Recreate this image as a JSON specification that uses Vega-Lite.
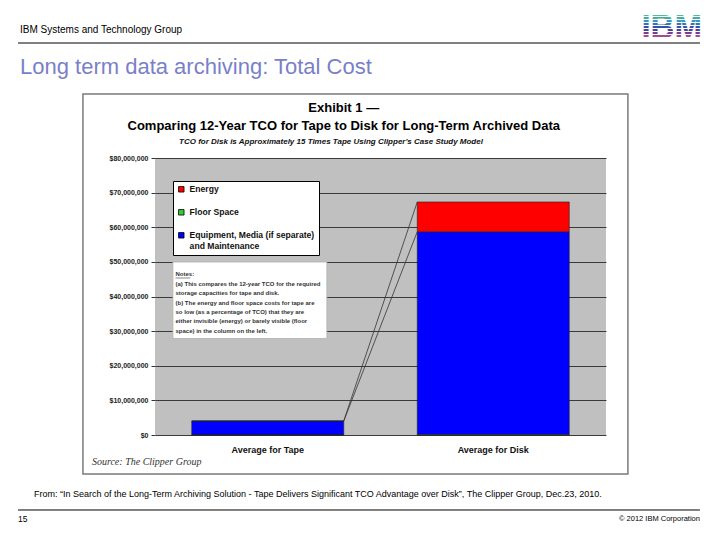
{
  "$schema": "https://vega.github.io/schema/vega-lite/v6.json",
  "width": 451,
  "height": 277,
  "autosize": {"type": "none"},
  "padding": {"left": 155, "top": 158, "right": 114, "bottom": 105},
  "background": "white",
  "config": {
    "font": "Liberation Sans",
    "view": {"fill": "#c0c0c0", "stroke": null}
  },
  "datasets": {
    "tco": [
      {"category": "Average for Tape", "component": "Equipment, Media (if separate) and Maintenance", "cost": 4010000},
      {"category": "Average for Tape", "component": "Floor Space", "cost": 30000},
      {"category": "Average for Tape", "component": "Energy", "cost": 10000},
      {"category": "Average for Disk", "component": "Equipment, Media (if separate) and Maintenance", "cost": 58650000},
      {"category": "Average for Disk", "component": "Floor Space", "cost": 50000},
      {"category": "Average for Disk", "component": "Energy", "cost": 8600000}
    ],
    "serieslines": [
      {"series": "Energy", "from": "Average for Tape", "to": "Average for Disk", "tape_top": 4050000, "disk_top": 67300000},
      {"series": "Equipment, Media (if separate) and Maintenance", "from": "Average for Tape", "to": "Average for Disk", "tape_top": 4040000, "disk_top": 58700000}
    ],
    "one": [{}]
  },
  "layer": [
    {
      "data": {"name": "tco"},
      "mark": {"type": "bar", "stroke": "#222", "strokeWidth": 0.6},
      "encoding": {
        "x": {
          "field": "category", "type": "nominal",
          "scale": {"domain": ["Average for Tape", "Average for Disk"], "paddingInner": 0.326, "paddingOuter": 0.163},
          "axis": {"title": null, "ticks": false, "domain": false, "labelAngle": 0, "labelFontSize": 9, "labelFontWeight": "bold", "labelColor": "#111", "labelPadding": 10}
        },
        "y": {
          "field": "cost", "type": "quantitative", "stack": "zero",
          "scale": {"domain": [0, 80000000], "nice": false},
          "axis": {"title": null, "values": [0, 10000000, 20000000, 30000000, 40000000, 50000000, 60000000, 70000000, 80000000], "tickCount": 9, "format": "$,.0f", "labelOverlap": false, "labelFontSize": 7, "labelFontWeight": "bold", "labelColor": "#222", "tickSize": 4, "tickColor": "#333", "labelPadding": 3, "domain": false, "grid": true, "gridColor": "#3a3a3a", "gridWidth": 1}
        },
        "color": {
          "field": "component", "type": "nominal",
          "scale": {"domain": ["Energy", "Floor Space", "Equipment, Media (if separate) and Maintenance"], "range": ["#ff0000", "#33cc33", "#0000ff"]},
          "legend": {
            "orient": "none", "legendX": 18, "legendY": 23, "title": null,
            "symbolType": "square", "symbolSize": 30, "symbolStrokeColor": "#000", "symbolStrokeWidth": 0.8,
            "labelFontSize": 8.6, "labelFontWeight": "bold", "labelColor": "#111", "labelLimit": 240, "labelOffset": 4,
            "fillColor": "#ffffff", "strokeColor": "#000000", "padding": 4, "rowPadding": 13,
            "labelExpr": "datum.label == 'Equipment, Media (if separate) and Maintenance' ? ['Equipment, Media (if separate)', 'and Maintenance'] : datum.label"
          }
        },
        "order": {"field": "component", "type": "nominal", "sort": "descending"}
      }
    },
    {
      "data": {"name": "one"},
      "mark": {"type": "rect", "filled": false, "stroke": "#7a7a7a", "strokeWidth": 1.5},
      "encoding": {
        "x": {"datum": "Average for Tape", "type": "nominal", "bandPosition": -0.716},
        "x2": {"datum": "Average for Disk", "bandPosition": 1.386},
        "y": {"datum": 98480000, "type": "quantitative"},
        "y2": {"datum": -11260000}
      }
    },
    {
      "data": {"name": "serieslines"},
      "mark": {"type": "rule", "stroke": "#333", "strokeWidth": 0.8},
      "encoding": {
        "x": {"field": "from", "type": "nominal", "bandPosition": 1},
        "x2": {"field": "to", "bandPosition": 0},
        "y": {"field": "tape_top", "type": "quantitative"},
        "y2": {"field": "disk_top"}
      }
    },
    {
      "data": {"name": "one"},
      "mark": {"type": "rect", "fill": "#ffffff", "stroke": "#b0b0b0", "strokeWidth": 0.8},
      "encoding": {
        "x": {"datum": "Average for Tape", "type": "nominal", "bandPosition": -0.124},
        "x2": {"datum": "Average for Tape", "bandPosition": 0.889},
        "y": {"datum": 49960000, "type": "quantitative"},
        "y2": {"datum": 27870000}
      }
    },
    {
      "data": {"name": "one"},
      "mark": {
        "type": "text", "align": "left", "baseline": "top", "fontSize": 6, "fontWeight": "bold", "color": "#333", "lineHeight": 9.4,
        "text": ["Notes:", "(a) This compares the 12-year TCO for the required", "storage capacities for tape and disk.", "(b) The energy and floor space costs for tape are", "so low (as a percentage of TCO) that they are", "either invisible (energy) or barely visible (floor", "space) in the column on the left."]
      },
      "encoding": {
        "x": {"datum": "Average for Tape", "type": "nominal", "bandPosition": -0.107},
        "y": {"datum": 47250000, "type": "quantitative"}
      }
    },
    {
      "data": {"name": "one"},
      "mark": {"type": "rule", "stroke": "#333", "strokeWidth": 0.6},
      "encoding": {
        "x": {"datum": "Average for Tape", "type": "nominal", "bandPosition": -0.107},
        "x2": {"datum": "Average for Tape", "bandPosition": -0.01},
        "y": {"datum": 45340000, "type": "quantitative"}
      }
    },
    {
      "data": {"name": "one"},
      "mark": {"type": "text", "text": "Exhibit 1 \u2014", "align": "center", "baseline": "middle", "fontSize": 13, "fontWeight": "bold", "color": "#000"},
      "encoding": {
        "x": {"datum": "Average for Tape", "type": "nominal", "bandPosition": 1.0},
        "y": {"datum": 94440000, "type": "quantitative"}
      }
    },
    {
      "data": {"name": "one"},
      "mark": {"type": "text", "text": "Comparing 12-Year TCO for Tape to Disk for Long-Term Archived Data", "align": "center", "baseline": "middle", "fontSize": 13, "fontWeight": "bold", "color": "#000"},
      "encoding": {
        "x": {"datum": "Average for Tape", "type": "nominal", "bandPosition": 1.0},
        "y": {"datum": 89240000, "type": "quantitative"}
      }
    },
    {
      "data": {"name": "one"},
      "mark": {"type": "text", "text": "TCO for Disk is Approximately 15 Times Tape Using Clipper's Case Study Model", "align": "center", "baseline": "middle", "fontSize": 8, "fontWeight": "bold", "fontStyle": "italic", "color": "#111"},
      "encoding": {
        "x": {"datum": "Average for Tape", "type": "nominal", "bandPosition": 0.916},
        "y": {"datum": 84480000, "type": "quantitative"}
      }
    },
    {
      "data": {"name": "one"},
      "mark": {"type": "text", "text": "Source:  The Clipper Group", "align": "left", "baseline": "middle", "fontSize": 10, "font": "Liberation Serif", "fontStyle": "italic", "color": "#333"},
      "encoding": {
        "x": {"datum": "Average for Tape", "type": "nominal", "bandPosition": -0.657},
        "y": {"datum": -7940000, "type": "quantitative"}
      }
    },
    {
      "data": {"name": "one"},
      "mark": {"type": "text", "text": "IBM Systems and Technology Group", "align": "left", "baseline": "middle", "fontSize": 10, "color": "#000"},
      "encoding": {
        "x": {"datum": "Average for Tape", "type": "nominal", "bandPosition": -1.13},
        "y": {"datum": 116970000, "type": "quantitative"}
      }
    },
    {
      "data": {"name": "one"},
      "mark": {
        "type": "text", "text": "IBM", "align": "right", "baseline": "middle", "fontSize": 33, "fontWeight": "bold",
        "fill": {"gradient": "linear", "x1": 0, "y1": 0, "x2": 0, "y2": 1, "stops": [
          {"offset": 0, "color": "#56b98f"}, {"offset": 0.225, "color": "#56b98f"}, {"offset": 0.225, "color": "#ffffff"}, {"offset": 0.25, "color": "#ffffff"},
          {"offset": 0.25, "color": "#3fae9f"}, {"offset": 0.305, "color": "#3fae9f"}, {"offset": 0.305, "color": "#ffffff"}, {"offset": 0.33, "color": "#ffffff"},
          {"offset": 0.33, "color": "#3596c2"}, {"offset": 0.385, "color": "#3596c2"}, {"offset": 0.385, "color": "#ffffff"}, {"offset": 0.41, "color": "#ffffff"},
          {"offset": 0.41, "color": "#2f73bd"}, {"offset": 0.465, "color": "#2f73bd"}, {"offset": 0.465, "color": "#ffffff"}, {"offset": 0.49, "color": "#ffffff"},
          {"offset": 0.49, "color": "#3453a6"}, {"offset": 0.545, "color": "#3453a6"}, {"offset": 0.545, "color": "#ffffff"}, {"offset": 0.57, "color": "#ffffff"},
          {"offset": 0.57, "color": "#4b3f98"}, {"offset": 0.625, "color": "#4b3f98"}, {"offset": 0.625, "color": "#ffffff"}, {"offset": 0.65, "color": "#ffffff"},
          {"offset": 0.65, "color": "#7a3c93"}, {"offset": 0.705, "color": "#7a3c93"}, {"offset": 0.705, "color": "#ffffff"}, {"offset": 0.73, "color": "#ffffff"},
          {"offset": 0.73, "color": "#a34a92"}, {"offset": 0.785, "color": "#a34a92"}, {"offset": 0.785, "color": "#ffffff"}, {"offset": 1, "color": "#ffffff"}
        ]}
      },
      "encoding": {
        "x": {"datum": "Average for Disk", "type": "nominal", "bandPosition": 1.873},
        "y": {"datum": 117570000, "type": "quantitative"}
      }
    },
    {
      "data": {"name": "one"},
      "mark": {"type": "rule", "stroke": "#000", "strokeWidth": 1},
      "encoding": {
        "x": {"datum": "Average for Tape", "type": "nominal", "bandPosition": -1.143},
        "x2": {"datum": "Average for Disk", "bandPosition": 1.86},
        "y": {"datum": 113210000, "type": "quantitative"}
      }
    },
    {
      "data": {"name": "one"},
      "mark": {"type": "text", "text": "Long term data archiving: Total Cost", "align": "left", "baseline": "middle", "fontSize": 22, "color": "#7a7fc9"},
      "encoding": {
        "x": {"datum": "Average for Tape", "type": "nominal", "bandPosition": -1.13},
        "y": {"datum": 106200000, "type": "quantitative"}
      }
    },
    {
      "data": {"name": "one"},
      "mark": {"type": "text", "text": "From:  \u201cIn Search of the Long-Term Archiving Solution - Tape Delivers Significant TCO Advantage over Disk\u201d, The Clipper Group, Dec.23, 2010.", "align": "left", "baseline": "middle", "fontSize": 9, "color": "#000"},
      "encoding": {
        "x": {"datum": "Average for Tape", "type": "nominal", "bandPosition": -1.038},
        "y": {"datum": -17180000, "type": "quantitative"}
      }
    },
    {
      "data": {"name": "one"},
      "mark": {"type": "rule", "stroke": "#000", "strokeWidth": 1},
      "encoding": {
        "x": {"datum": "Average for Tape", "type": "nominal", "bandPosition": -1.143},
        "x2": {"datum": "Average for Disk", "bandPosition": 1.86},
        "y": {"datum": -21660000, "type": "quantitative"}
      }
    },
    {
      "data": {"name": "one"},
      "mark": {"type": "text", "text": "15", "align": "left", "baseline": "middle", "fontSize": 8.5, "color": "#000"},
      "encoding": {
        "x": {"datum": "Average for Tape", "type": "nominal", "bandPosition": -1.143},
        "y": {"datum": -24400000, "type": "quantitative"}
      }
    },
    {
      "data": {"name": "one"},
      "mark": {"type": "text", "text": "\u00a9 2012 IBM Corporation", "align": "right", "baseline": "middle", "fontSize": 7.5, "color": "#000"},
      "encoding": {
        "x": {"datum": "Average for Disk", "type": "nominal", "bandPosition": 1.86},
        "y": {"datum": -24400000, "type": "quantitative"}
      }
    }
  ]
}
